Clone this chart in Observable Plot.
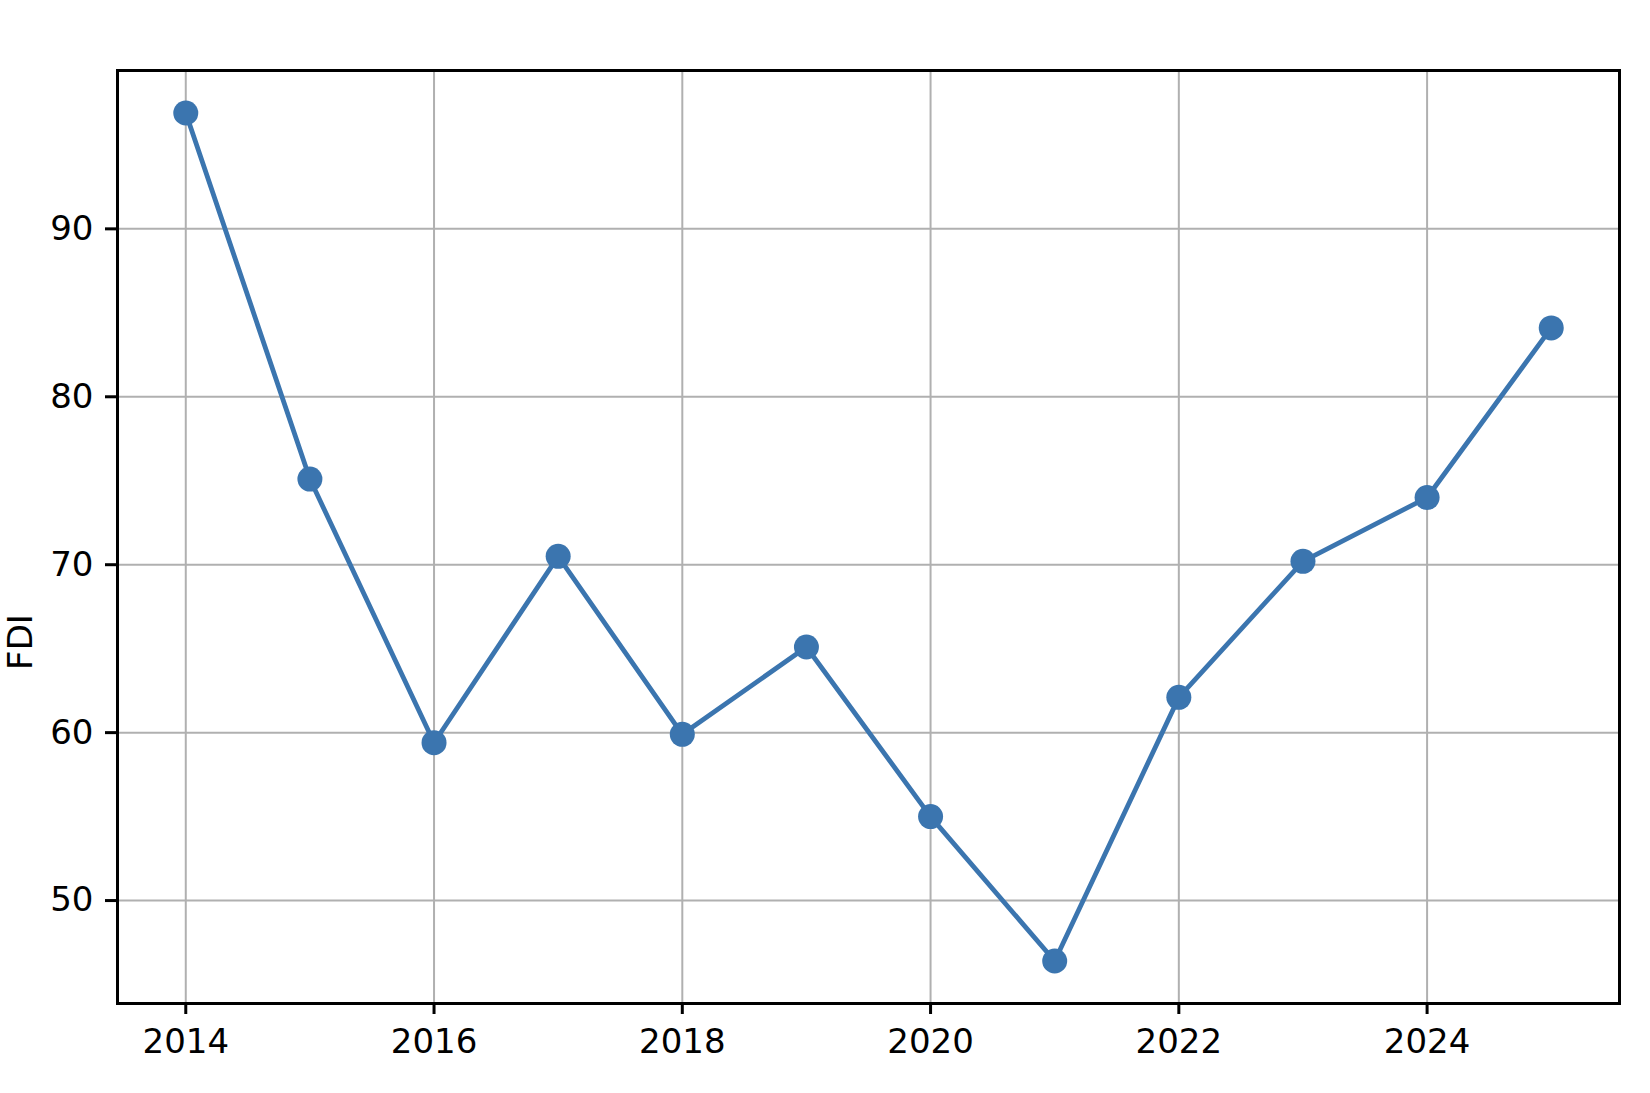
<!DOCTYPE html>
<html>
<head>
<meta charset="utf-8">
<script src="https://cdn.jsdelivr.net/npm/d3@7"></script>
<script src="https://cdn.jsdelivr.net/npm/@observablehq/plot@0.6"></script>
<style>
  html, body { margin: 0; padding: 0; background: #fff; }
  #wrap { position: relative; width: 1650px; height: 1093px; font-family: "DejaVu Sans", sans-serif; }
  #wrap svg { position: absolute; left: 0; top: 0; z-index: 0; }
  #ylab { position: absolute; left: 20px; top: 642px; transform: translate(-50%, -50%) rotate(-90deg); font-size: 34px; color: #000; white-space: nowrap; z-index: 5; }
</style>
</head>
<body>
<div id="wrap"></div>
<script>
const years = [2014, 2015, 2016, 2017, 2018, 2019, 2020, 2021, 2022, 2023, 2024, 2025];
const fdi = [96.9, 75.1, 59.4, 70.5, 59.9, 65.1, 55.0, 46.4, 62.1, 70.2, 74.0, 84.1];
const xTicks = [2014, 2016, 2018, 2020, 2022, 2024];
const yTicks = [50, 60, 70, 80, 90];
const yLabel = "FDI";

const data = years.map((y, i) => ({year: y, value: fdi[i]}));
const color = "#3b75af";

const chart = Plot.plot({
  width: 1650,
  height: 1093,
  marginLeft: 117,
  marginRight: 31,
  marginTop: 70,
  marginBottom: 90,
  style: {fontFamily: "DejaVu Sans, sans-serif", fontSize: "34px", color: "#000", background: "#fff"},
  x: {domain: [2013.45, 2025.55]},
  y: {domain: [43.87, 99.43]},
  marks: [
    Plot.gridX(xTicks, {stroke: "#b0b0b0", strokeOpacity: 1, strokeWidth: 2}),
    Plot.gridY(yTicks, {stroke: "#b0b0b0", strokeOpacity: 1, strokeWidth: 2}),
    Plot.axisX(xTicks, {tickFormat: d => String(d), tickSize: 11, tickPadding: 14, strokeWidth: 3, label: null, fontSize: 34}),
    Plot.axisY(yTicks, {tickFormat: d => String(d), tickSize: 12, tickPadding: 12, strokeWidth: 3, label: null, fontSize: 34}),
    Plot.line(data, {x: "year", y: "value", stroke: color, strokeWidth: 4.8}),
    Plot.dot(data, {x: "year", y: "value", r: 12.5, fill: color, stroke: "none"}),
    Plot.frame({stroke: "#000", strokeWidth: 3})
  ]
});
const wrap = document.getElementById("wrap");
wrap.appendChild(chart);
const lab = document.createElement("div");
lab.id = "ylab";
lab.textContent = yLabel;
wrap.appendChild(lab);
</script>
</body>
</html>
